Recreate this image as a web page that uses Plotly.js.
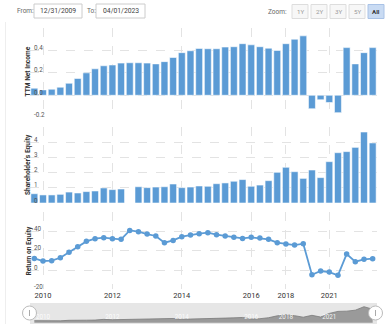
<!DOCTYPE html>
<html>
<head>
<meta charset="utf-8">
<script src="https://cdn.plot.ly/plotly-3.0.1.min.js"></script>
<style>html,body{margin:0;padding:0;background:#fff;}#chart{width:388px;height:324px;}</style>
</head>
<body>
<div id="chart"></div>
<script>
// ---- data (quarterly periods, ordinal axis) ----
const netIncome = [0.063,0.048,0.054,0.072,0.107,0.15,0.20,0.236,0.263,0.27,0.287,0.29,0.29,0.287,0.28,0.30,0.337,0.38,0.397,0.418,
                   0.415,0.415,0.43,0.433,0.46,0.45,0.433,0.42,0.40,0.46,0.50,0.53,-0.12,-0.04,-0.065,-0.155,0.425,0.28,0.38,0.425];
const equity = [0.61,0.53,0.53,0.57,0.72,0.66,0.75,0.79,0.99,0.88,0.92,null,1.07,1.01,1.05,1.07,1.25,1.01,1.05,1.12,
                1.10,1.27,1.32,1.43,1.54,1.10,1.18,1.47,2.02,2.35,2.06,1.62,2.17,1.67,2.72,3.31,3.38,3.66,4.67,3.95];
const roe = [12.1,9.4,9.7,12.8,18.4,24.3,29.8,32.6,33.6,32.6,31.9,41.2,39.9,37.4,35.4,28.4,30.8,34.7,36.4,37.8,
             38.8,36.7,35.4,34.0,32.9,34.0,33.3,31.9,28.4,27.0,26.0,27.4,-4.9,-1.0,-2.1,-5.5,16.6,8.7,11.1,11.8];
const yearTickIndex = [1,9,17,25,29,34];
const yearTickLabels = ['2010','2012','2014','2016','2018','2021'];
const niTicks = [-0.2,0,0.2,0.4,0.6], niTickText = ['-0.2','0.0','0.2','0.4',''];
const eqTicks = [0,1,2,3,4,5], eqTickText = ['0','1','2','3','4',''];
const roeTicks = [-20,0,20,40,60], roeTickText = ['-20','0','20','40',''];
const fromDate = '12/31/2009', toDate = '04/01/2023';
const zoomButtons = ['1Y','2Y','3Y','5Y','All'];

const periods = netIncome.map((_, i) => i);
const W = 388, H = 324;
const px = x => x / W, py = y => 1 - y / H;

const BLUE = '#5b9bd5';
const FONT = 'Roboto, "Open Sans", sans-serif';
const gridCol = '#e3e3e3';
const xDom = [px(30), px(377)];

function xAxis(anchor, showLabels) {
  return {
    domain: xDom, range: [-0.5, 39.5], anchor: anchor,
    tickmode: 'array', tickvals: yearTickIndex, ticktext: yearTickLabels,
    showticklabels: showLabels, showgrid: true, gridcolor: gridCol, griddash: 'dash', gridwidth: 1,
    zeroline: false, showline: false, ticks: '',
    tickfont: {family: FONT, size: 7.5, color: '#333'}
  };
}
function yAxis(anchor, dom, range, vals) {
  return {
    domain: dom, range: range, anchor: anchor,
    tickmode: 'array', tickvals: vals, showticklabels: false,
    showgrid: true, gridcolor: gridCol, griddash: 'dash', gridwidth: 1,
    zeroline: false, showline: false, ticks: ''
  };
}

const barStyle = {color: BLUE, line: {color: 'rgba(255,255,255,0.7)', width: 0.8}};
const traces = [
  {type: 'bar', x: periods, y: netIncome, xaxis: 'x', yaxis: 'y', marker: barStyle, hoverinfo: 'skip'},
  {type: 'bar', x: periods, y: equity, xaxis: 'x2', yaxis: 'y2', marker: barStyle, hoverinfo: 'skip'},
  {type: 'scatter', mode: 'lines+markers', x: periods, y: roe, xaxis: 'x3', yaxis: 'y3',
   line: {color: BLUE, width: 1.8}, marker: {color: BLUE, size: 5.5}, hoverinfo: 'skip'},
  {type: 'scatter', mode: 'lines', x: periods, y: equity, xaxis: 'x4', yaxis: 'y4', connectgaps: true,
   fill: 'tozeroy', fillcolor: '#9a9a9a', line: {color: '#7a7a7a', width: 0.8}, hoverinfo: 'skip'}
];

const shapes = [
  {type: 'line', xref: 'paper', yref: 'paper', x0: px(5.5), x1: px(5.5), y0: py(22), y1: py(324), line: {color: '#eeeeee', width: 1}},
  {type: 'rect', xref: 'paper', yref: 'paper', x0: px(34), x1: px(82), y0: py(4), y1: py(18), line: {color: '#cccccc', width: 1}, fillcolor: '#fff'},
  {type: 'rect', xref: 'paper', yref: 'paper', x0: px(96), x1: px(145), y0: py(4), y1: py(18), line: {color: '#cccccc', width: 1}, fillcolor: '#fff'},
  {type: 'rect', xref: 'paper', yref: 'paper', x0: xDom[0], x1: xDom[1], y0: py(324), y1: py(303), line: {width: 0}, fillcolor: '#e6e6e6', layer: 'below'},
];
const btnX = [292, 311, 330, 349, 368];
btnX.forEach((x, i) => {
  const sel = i === zoomButtons.length - 1;
  shapes.push({type: 'rect', xref: 'paper', yref: 'paper', x0: px(x), x1: px(x + 16), y0: py(4.5), y1: py(18.5),
    line: {color: sel ? '#a9c2e6' : '#dddddd', width: 1}, fillcolor: sel ? '#c9dbf3' : '#f7f7f7'});
});
[29.5, 375.5].forEach(cx => {
  shapes.push({type: 'circle', xref: 'paper', yref: 'paper', x0: px(cx - 7), x1: px(cx + 7), y0: py(313 + 7), y1: py(313 - 7),
    line: {color: '#bbbbbb', width: 1}, fillcolor: '#ffffff'});
  shapes.push({type: 'line', xref: 'paper', yref: 'paper', x0: px(cx), x1: px(cx), y0: py(310), y1: py(316),
    line: {color: '#aaaaaa', width: 1}});
});

const annotations = [
  {text: 'From:', x: px(15), y: py(11), xanchor: 'left', font: {size: 6.5, color: '#666', family: FONT}},
  {text: fromDate, x: px(58), y: py(11), xanchor: 'center', font: {size: 6.8, color: '#444', family: FONT}},
  {text: 'To:', x: px(85), y: py(11), xanchor: 'left', font: {size: 6.5, color: '#666', family: FONT}},
  {text: toDate, x: px(120.5), y: py(11), xanchor: 'center', font: {size: 6.8, color: '#444', family: FONT}},
  {text: 'Zoom:', x: px(289), y: py(11.5), xanchor: 'right', font: {size: 6.5, color: '#666', family: FONT}},
  {text: '<b>TTM Net Income</b>', x: px(21.5), y: py(72), textangle: -90, font: {size: 6.6, color: '#333', family: FONT}},
  {text: "<b>Shareholder's Equity</b>", x: px(22), y: py(165), textangle: -90, font: {size: 6.6, color: '#333', family: FONT}},
  {text: '<b>Return on Equity</b>', x: px(22), y: py(250.5), textangle: -90, font: {size: 6.6, color: '#333', family: FONT}},
];
btnX.forEach((x, i) => {
  const sel = i === zoomButtons.length - 1;
  annotations.push({text: sel ? '<b>' + zoomButtons[i] + '</b>' : zoomButtons[i], x: px(x + 8), y: py(11.5), xanchor: 'center',
    font: {size: 6.2, color: sel ? '#333' : '#999', family: FONT}});
});
// y tick labels drawn inside the plot, left aligned, slightly above their gridlines
[['y', niTicks, niTickText], ['y2', eqTicks, eqTickText], ['y3', roeTicks, roeTickText]].forEach(([ax, vals, texts]) => {
  vals.forEach((v, i) => {
    if (!texts[i]) return;
    annotations.push({text: texts[i], xref: 'paper', yref: ax, x: px(31.5), y: v, xanchor: 'left', yshift: 2.5,
      font: {size: 6.3, color: '#555', family: FONT}});
  });
});
annotations.forEach(a => { a.xref = a.xref || 'paper'; a.yref = a.yref || 'paper'; a.showarrow = false; a.yanchor = a.yanchor || 'middle'; });

const nav = xAxis('y4', true);
nav.showgrid = false;
nav.ticklabelposition = 'inside';
nav.tickfont = {family: FONT, size: 6.3, color: 'rgba(255,255,255,0.9)'};
nav.ticklabelstandoff = 1;

const layout = {
  width: W, height: H, margin: {l: 0, r: 0, t: 0, b: 0},
  paper_bgcolor: '#fff', plot_bgcolor: 'rgba(0,0,0,0)',
  showlegend: false, bargap: 0.2,
  xaxis: xAxis('y', false), yaxis: yAxis('x', [py(117.7), py(28)], [-0.2, 0.6], niTicks),
  xaxis2: xAxis('y2', false), yaxis2: yAxis('x2', [py(203), py(127)], [0, 5], eqTicks),
  xaxis3: xAxis('y3', true), yaxis3: yAxis('x3', [py(289.3), py(212.3)], [-20, 60], roeTicks),
  xaxis4: nav,
  yaxis4: {domain: [0, py(303)], range: [-0.36, 5.75], anchor: 'x4', showgrid: false, showticklabels: false, zeroline: false, ticks: ''},
  shapes: shapes, annotations: annotations
};
Plotly.newPlot('chart', traces, layout, {staticPlot: true, displayModeBar: false});
</script>
</body>
</html>
